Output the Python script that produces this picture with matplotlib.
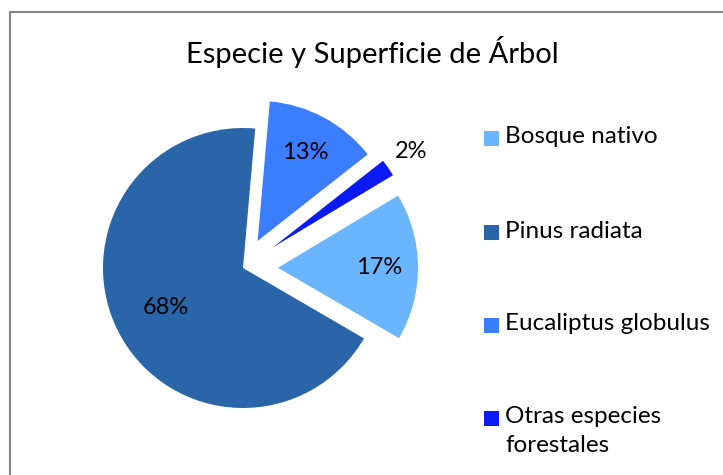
import numpy as np
import matplotlib
matplotlib.use("Agg")
import matplotlib.pyplot as plt
from matplotlib.lines import Line2D
from matplotlib.patches import Rectangle

# datos del grafico
species = ["Bosque nativo", "Pinus radiata", "Eucaliptus globulus",
           "Otras especies\nforestales"]
shares = [17, 68, 13, 2]
colors = ["#6BB5FF", "#2B65A9", "#3B7DFF", "#0B1AF5"]
explode = [0.25, 0, 0.22, 0.26]
label_dist = [0.72, 0.62, 0.72, 1.2]

W, H = 723, 475
plt.rcParams["font.family"] = ["Lato", "DejaVu Sans"]

fig = plt.figure(figsize=(W / 100, H / 100), dpi=100)

# ejes del pie: centro en (243, 268) px, radio 140 px, margen de 200 px
cx, cy, half = 243, 268, 200
ax = fig.add_axes([(cx - half) / W, (H - cy - half) / H, 2 * half / W, 2 * half / H])
wedges, texts, autotexts = ax.pie(
    shares, colors=colors, explode=explode, startangle=31, counterclock=False,
    autopct="%1.0f%%", wedgeprops={"linewidth": 0}, radius=1.0,
    textprops={"fontsize": 17, "color": "black"})
lim = half / 140
ax.set_xlim(-lim, lim)
ax.set_ylim(-lim, lim)
ax.set_aspect("equal")
ax.axis("off")

for w, t, d in zip(wedges, autotexts, label_dist):
    mid = np.deg2rad((w.theta1 + w.theta2) / 2)
    x0, y0 = w.center
    t.set_position((x0 + d * w.r * np.cos(mid), y0 + d * w.r * np.sin(mid)))

fig.text(372 / W, 1 - 52 / H, "Especie y Superficie de Árbol",
         ha="center", va="center", fontsize=21)

# leyenda manual
sq = 15
legend_y = [138, 233, 325, 418]
for name, col, y in zip(species, colors, legend_y):
    fig.add_artist(Rectangle((484 / W, 1 - (y + sq / 2) / H), sq / W, sq / H,
                             transform=fig.transFigure, color=col, lw=0))
    fig.text(505 / W, 1 - (y - 12) / H, name, ha="left", va="top",
             fontsize=17.5, linespacing=1.5)

# marco parcial del area del grafico
fig.add_artist(Line2D([10 / W, 10 / W], [0, 1 - 12 / H], color="#868686", lw=1.5))
fig.add_artist(Line2D([10 / W, 1], [1 - 12 / H, 1 - 12 / H], color="#868686", lw=1.5))

fig.savefig("out.png", dpi=100)
